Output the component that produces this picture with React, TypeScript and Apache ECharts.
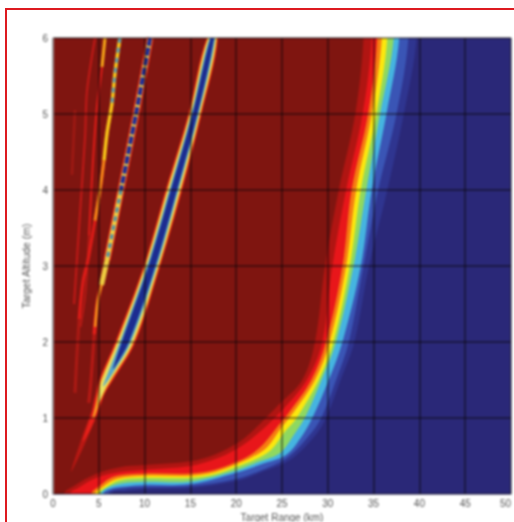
import React, { useEffect, useRef } from "react";
import * as echarts from "echarts";

// Axis ticks
const rangeTicks = [0, 5, 10, 15, 20, 25, 30, 35, 40, 45, 50];
const altitudeTicks = [0, 1, 2, 3, 4, 5, 6];

// Coverage contours: [range km, altitude km], outermost first
const contourFade = [[6.4,0],[7.9,.04],[10,.066],[15,.08],[20,.17],[22.8,.29],[25.9,.45],[28.7,.78],[29.8,1],[31.4,1.5],[32.9,2],[34.5,3],[36.5,4],[38.3,5],[39.7,6]];
const contourBlue = [[6,0],[7.5,.07],[10,.09],[15,.105],[20,.2],[22.8,.315],[25.6,.48],[28.3,.82],[29.4,1.03],[30.9,1.5],[32.3,2],[33.9,3],[35.5,4],[37.5,5],[38.8,6]];
const contourCyan = [[5.5,0],[6.3,.07],[7.9,.1],[10,.12],[15,.13],[20,.28],[22.8,.395],[25.4,.51],[27,.73],[28.3,1],[30.1,1.5],[31.6,2],[33.6,3],[34.8,4],[36.4,5],[37.8,6]];
const contourGreen = [[5.2,0],[5.9,.08],[7.6,.14],[10,.16],[15,.165],[20,.31],[22.6,.43],[24.8,.54],[26.3,.78],[27.6,1.03],[29.3,1.5],[30.9,2],[32.8,3],[34.2,4],[35.7,5],[37.2,6]];
const contourYellow = [[5,0],[5.7,.08],[7.3,.18],[10,.21],[15,.21],[17.7,.26],[20,.355],[22,.45],[23.8,.58],[25.3,.82],[26.6,1],[29,1.5],[30.6,2],[32.4,3],[33.6,4],[35.3,5],[36.5,6]];
const contourOrange = [[4.6,0],[5.4,.09],[7,.2],[10,.24],[15,.24],[17.7,.29],[20,.39],[21.8,.49],[23.4,.62],[24.9,.87],[26.1,1.05],[28.6,1.5],[30.2,2],[32,3],[33.1,4],[34.8,5],[35.9,6]];
const contourRed = [[4.2,0],[5,.1],[6.7,.23],[10,.27],[15,.27],[17.7,.32],[20,.42],[21.6,.52],[23,.66],[24.6,.9],[25.8,1.08],[28.2,1.5],[29.8,2],[31.6,3],[32.6,4],[34.4,5],[35.4,6]];
const contourMid = [[1.86,0],[2.73,.08],[4.9,.22],[7.3,.29],[10,.32],[15,.37],[17.7,.46],[20,.59],[21.9,.75],[25,1.1],[27.7,1.5],[29.4,2],[30.5,3],[32,4],[33.8,5],[34.8,6]];
const contourDark = [[1.2,0],[2.2,.1],[4.6,.26],[7.2,.35],[10,.38],[15,.43],[17.7,.52],[20,.66],[21.7,.82],[24.6,1.17],[27.2,1.5],[28.6,2],[29.7,3],[31.2,4],[33,5],[33.9,6]];

// Main null: [altitude km, centre range km, half width km]
const nullDim = [[.3,2,.04],[.6,3,.25],[.85,3.8,.34],[1.1,4.6,.36],[1.3,5.1,.4]];
const nullRed = [[.7,3.3,.06],[.85,3.85,.22],[1.05,4.5,.32],[1.3,5.1,.45],[1.5,5.8,.76],[2,7.9,1.1],[3,10.8,.9],[4,13.2,.9],[5,15.5,.72],[6,17.4,.6]];
const nullOrange = [[1,4.4,.08],[1.2,4.9,.2],[1.37,5.35,.4],[1.5,5.8,.6],[2,7.9,.95],[3,10.8,.8],[4,13.2,.78],[5,15.5,.62],[6,17.4,.52]];
const nullYellow = [[1.2,4.95,.05],[1.37,5.35,.28],[1.5,5.8,.45],[2,7.9,.85],[3,10.8,.7],[4,13.2,.68],[5,15.5,.53],[6,17.4,.44]];
const nullCyan = [[1.42,5.5,.05],[1.6,6.3,.28],[2,7.9,.6],[3,10.8,.55],[4,13.2,.5],[5,15.5,.4],[6,17.4,.32]];
const nullBlue = [[1.65,6.6,.05],[2,7.9,.4],[3,10.8,.38],[4,13.2,.35],[5,15.5,.28],[6,17.4,.2]];

// Narrow lobes: [range km, altitude km]
const lobeALow = [[5.9,3.08],[4.9,2.55],[4.5,2.1]];
const lobeAFade = [[4.5,2.1],[4.15,1.5],[3.9,1.2]];
const lobeAHigh = [[10.6,6],[9.06,5],[7.42,4],[5.9,3.08]];
const lobeAUpper = [[10.6,6],[9.06,5],[7.42,4]];
const lobeAMiddle = [[7.42,4],[5.9,3.08]];
const lobeAYellow = [[10.6,6],[9.06,5],[7.42,4],[5.9,3.08],[5.3,2.75]];
const lobeAOrange = [[5.3,2.75],[4.9,2.55],[4.6,2.2]];
const lobeB = [[7.3,6],[6.77,5.54],[6.44,5.14],[5.9,4.75],[5.57,4.39],[5.13,4],[4.59,3.6],[3.82,3.08],[3.28,2.8],[2.85,2.3]];
const lobeBFade = [[2.85,2.3],[2.6,1.8],[2.4,1.33]];
const lobeBYellow = [[7.3,6],[6.77,5.54],[6.44,5.14],[5.9,4.75],[5.57,4.39]];
const lobeBOrange = [[5.57,4.39],[5.13,4],[4.59,3.6]];
const lobeBTop = [[7.3,6],[6.77,5.54],[6.44,5.14]];
const lobeC = [[5.68,6],[5.35,5.62],[4.8,5.09],[4.37,4.39],[3.93,3.4]];
const lobeCFade = [[3.93,3.4],[3.5,2.6],[3,2.2]];
const lobeCTop = [[5.68,6],[5.35,5.62]];
const lobeD = [[4.59,6],[3.71,5.3],[3.5,4.7],[2.95,3.7],[2.3,2.5]];
const lobeE = [[2.4,5.05],[2.07,4.2]];

const NAVY = "#2a2878";
const DARK = "#7f1510";

const contourBands: [number[][], string][] = [
  [contourFade, "#2f3590"],
  [contourBlue, "#3a55b5"],
  [contourCyan, "#45b4e0"],
  [contourGreen, "#8fd860"],
  [contourYellow, "#fbe70e"],
  [contourOrange, "#f67c12"],
  [contourRed, "#e8161a"],
  [contourMid, "#b01512"],
  [contourDark, DARK],
];
const nullBands: [number[][], string][] = [
  [nullDim, "#b81813"],
  [nullRed, "#e8201a"],
  [nullOrange, "#f7a020"],
  [nullYellow, "#e9e060"],
  [nullCyan, "#5aa8c8"],
  [nullBlue, "#1c2c90"],
];

const polygons = [
  ...contourBands.map(([pts, fill]) => ({
    pts: [[pts[0][0], -1], ...pts, [pts[pts.length - 1][0], 7], [-10, 7], [-10, -1]],
    fill,
  })),
  ...nullBands.map(([rows, fill]) => ({
    pts: [
      ...rows.map(([a, r, h]) => [r - h, a]),
      ...[...rows].reverse().map(([a, r, h]) => [r + h, a]),
    ],
    fill,
  })),
];

const lobe = (data: number[][], color: string, width: number, dash?: number[]) => ({
  type: "line",
  data,
  smooth: 0.3,
  showSymbol: false,
  silent: true,
  z: 3,
  lineStyle: { color, width, type: dash ?? "solid", cap: "butt" },
});

export default function App() {
  const ref = useRef<HTMLDivElement>(null);
  useEffect(() => {
    const chart = echarts.init(ref.current!, undefined, { renderer: "svg" });
    const labelFont = { fontFamily: "Liberation Sans", fontSize: 10, color: "#555" };
    chart.setOption({
      animation: false,
      backgroundColor: "#fff",
      grid: { left: 53, right: 3, top: 38, bottom: 28, backgroundColor: NAVY, show: true, borderWidth: 0, outerBoundsMode: "none" },
      xAxis: {
        type: "value", min: 0, max: 50, interval: 5, z: 5,
        name: "Target Range (km)", nameLocation: "middle", nameGap: 14,
        nameTextStyle: { ...labelFont, fontSize: 10 },
        axisLabel: { ...labelFont, margin: 4, showMinLabel: true, showMaxLabel: true, alignMaxLabel: "right",
          formatter: (v: number) => (rangeTicks.includes(v) ? String(v) : "") },
        axisTick: { show: false },
        axisLine: { show: true, lineStyle: { color: "#8a8aa0", width: 1 } },
        splitLine: { show: true, lineStyle: { color: "rgba(10,5,10,0.6)", width: 1.5 } },
      },
      yAxis: {
        type: "value", min: 0, max: 6, interval: 1, z: 5,
        name: "Target Altitude (m)", nameLocation: "middle", nameGap: 19,
        nameTextStyle: { ...labelFont, fontSize: 10.5 },
        axisLabel: { ...labelFont, margin: 5,
          formatter: (v: number) => (altitudeTicks.includes(v) ? String(v) : "") },
        axisTick: { show: false },
        axisLine: { show: true, lineStyle: { color: "#9a8a8a", width: 1 } },
        splitLine: { show: true, lineStyle: { color: "rgba(10,5,10,0.6)", width: 1.5 } },
      },
      series: [
        {
          type: "custom",
          silent: true,
          clip: true,
          z: 2,
          encode: { x: 0, y: 1 },
          data: polygons.map(() => [0, 0]),
          renderItem: (params: any, api: any) => {
            const band = polygons[params.dataIndex];
            return {
              type: "polygon",
              shape: { points: band.pts.map((p) => api.coord(p)), smooth: 0.35 },
              style: { fill: band.fill },
            };
          },
        },
        lobe(lobeE, "#a01a14", 2.5),
        lobe(lobeD, "#c41a17", 2),
        lobe(lobeCFade, "#b81a15", 2),
        lobe(lobeC, "#e01c18", 2),
        lobe(lobeCTop, "#f6a818", 3),
        lobe(lobeBFade, "#ac1a14", 3),
        lobe(lobeB, "#e01c18", 3),
        lobe(lobeBOrange, "#f88a18", 3),
        lobe(lobeBYellow, "#f8c818", 3.5),
        lobe(lobeBTop, "#5a9ab0", 3, [5, 5]),
        lobe(lobeAFade, "#b81a15", 3),
        lobe(lobeALow, "#e8201a", 3.5),
        lobe(lobeAHigh, "#e8201a", 7),
        lobe(lobeAOrange, "#f6951a", 2.5),
        lobe(lobeAYellow, "#eecb40", 5),
        lobe(lobeAMiddle, "#4a8ea8", 3, [5, 4]),
        lobe(lobeAUpper, "#1c2c98", 4, [8, 2]),
      ],
    });
    return () => chart.dispose();
  }, []);
  return (
    <div style={{ position: "absolute", left: 0, top: 0, width: 514, height: 522, background: "#fff", overflow: "hidden" }}>
      <div ref={ref} style={{ position: "absolute", left: 0, top: 0, width: 514, height: 522, filter: "blur(1.1px)" }} />
      <div style={{ position: "absolute", left: 5, top: 8, width: 2, height: 514, background: "#dd1a20" }} />
      <div style={{ position: "absolute", left: 5, top: 8, width: 509, height: 2, background: "#dd1a20" }} />
    </div>
  );
}
